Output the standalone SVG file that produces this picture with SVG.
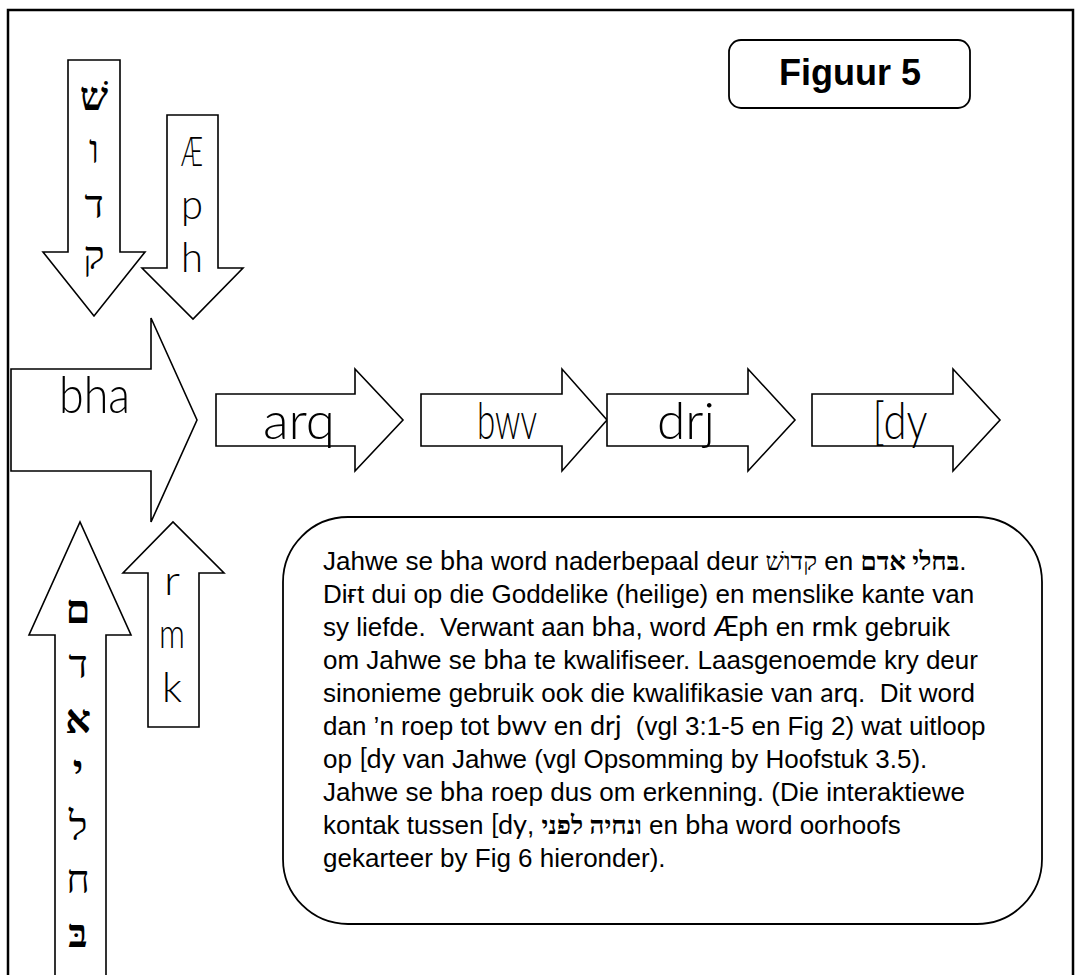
<svg xmlns="http://www.w3.org/2000/svg" width="1082" height="975" viewBox="0 0 1082 975">
<style>
.frame{fill:none;stroke:#000;stroke-width:2.5}
.ar{fill:#fff;stroke:#000;stroke-width:1.6;stroke-linejoin:miter}
.box{fill:#fff;stroke:#000;stroke-width:1.8}
.tr{font-family:"Lato","Open Sans","DejaVu Sans",sans-serif;font-weight:300;fill:#000}
.ti{font-family:"Lato","Open Sans","DejaVu Sans",sans-serif;font-weight:400;font-size:27px;fill:#000}
.lbl{font-size:52px;text-anchor:middle}
.vl{font-size:41px;text-anchor:middle}
.he{font-family:"Liberation Serif","DejaVu Serif",serif;font-size:40px;text-anchor:middle;fill:#000}
.heb{font-weight:bold}
.body{font-family:"Liberation Sans",Arial,sans-serif;font-size:26px;fill:#000;white-space:pre}
.heI{font-family:"Liberation Serif","DejaVu Serif",serif;font-size:26px}
.fig{font-family:"Liberation Sans",Arial,sans-serif;font-size:36px;font-weight:bold;text-anchor:middle}
</style>
<rect class="frame" x="8" y="10" width="1065" height="1000"/>
<g id="connectors">
<polygon id="arrow-qdsh" class="ar" points="68,60 120,60 120,252 145,252 94,316 43,252 68,252"/>
<polygon id="arrow-eph" class="ar" points="167,115 218,115 218,268 243,268 193,319 142,268 167,268"/>
<polygon id="arrow-adam" class="ar" points="55,1010 55,635 29,635 80,522 131,635 106,635 106,1010"/>
<polygon id="arrow-rmk" class="ar" points="148,727 148,573 123,573 173,522 224,573 199,573 199,727"/>
</g>
<g id="node-qdsh">
<text class="he heb" x="94" y="110">שׁ</text>
<text class="he" x="94" y="163">ו</text>
<text class="he" x="94" y="218">ד</text>
<text class="he" x="94" y="269">ק</text>
</g>
<g id="node-eph">
<text class="tr vl" x="192" y="166" textLength="22" lengthAdjust="spacingAndGlyphs">Æ</text>
<text class="tr vl" x="192" y="219" textLength="22" lengthAdjust="spacingAndGlyphs">p</text>
<text class="tr vl" x="192" y="272" textLength="22" lengthAdjust="spacingAndGlyphs">h</text>
</g>
<g id="node-bha">
<polygon class="ar" points="11,369 151,369 151,318 197,420 151,522 151,471 11,471"/>
<text class="tr lbl" x="94.5" y="413" textLength="71" lengthAdjust="spacingAndGlyphs">bha</text>
</g>
<g id="node-arq">
<polygon class="ar" points="216,394 355,394 355,369 403,420 355,471 355,446 216,446"/>
<text class="tr lbl" x="299" y="439" textLength="72" lengthAdjust="spacingAndGlyphs">arq</text>
</g>
<g id="node-bwv">
<polygon class="ar" points="421,394 562,394 562,369 607,420 562,471 562,446 421,446"/>
<text class="tr lbl" x="507" y="439" textLength="60" lengthAdjust="spacingAndGlyphs">bwv</text>
</g>
<g id="node-drj">
<polygon class="ar" points="607,394 748,394 748,369 795,420 748,471 748,446 607,446"/>
<text class="tr lbl" x="686" y="439" textLength="58" lengthAdjust="spacingAndGlyphs">drj</text>
</g>
<g id="node-dy">
<polygon class="ar" points="812,394 953,394 953,369 1000,420 953,471 953,446 812,446"/>
<text class="tr lbl" x="900" y="439" textLength="55" lengthAdjust="spacingAndGlyphs">[dy</text>
</g>
<g id="node-adam">
<text class="he heb" x="78" y="623">ם</text>
<text class="he" x="78" y="678">ד</text>
<text class="he heb" x="78" y="733">א</text>
<text class="he heb" x="78" y="783">י</text>
<text class="he" x="78" y="840">ל</text>
<text class="he" x="78" y="893">ח</text>
<text class="he heb" x="78" y="947">בּ</text>
</g>
<g id="node-rmk">
<text class="tr vl" x="172" y="595" textLength="16" lengthAdjust="spacingAndGlyphs">r</text>
<text class="tr vl" x="172" y="648" textLength="26" lengthAdjust="spacingAndGlyphs">m</text>
<text class="tr vl" x="172" y="702" textLength="20" lengthAdjust="spacingAndGlyphs">k</text>
</g>
<g id="node-title">
<rect class="box" x="729" y="40" width="241" height="68" rx="12"/>
<text class="fig" x="850" y="85">Figuur 5</text>
</g>
<g id="node-note">
<rect class="box" x="283" y="517" width="759" height="407" rx="65"/>
<text class="body" x="323" y="570">Jahwe se <tspan class="ti">bha</tspan> word naderbepaal deur <tspan class="heI">קדושׁ</tspan> en <tspan class="heI" font-weight="bold">בּחלי אדם</tspan>.</text>
<text class="body" x="323" y="603">Diғt dui op die Goddelike (heilige) en menslike kante van</text>
<text class="body" x="323" y="636">sy liefde.  Verwant aan <tspan class="ti">bha</tspan>, word <tspan class="ti">Æph</tspan> en <tspan class="ti">rmk</tspan> gebruik</text>
<text class="body" x="323" y="669">om Jahwe se <tspan class="ti">bha</tspan> te kwalifiseer. Laasgenoemde kry deur</text>
<text class="body" x="323" y="702">sinonieme gebruik ook die kwalifikasie van <tspan class="ti">arq</tspan>.  Dit word</text>
<text class="body" x="323" y="735">dan ’n roep tot <tspan class="ti">bwv</tspan> en <tspan class="ti">drj</tspan>  (vgl 3:1-5 en Fig 2) wat uitloop</text>
<text class="body" x="323" y="768">op <tspan class="ti">[dy</tspan> van Jahwe (vgl Opsomming by Hoofstuk 3.5).</text>
<text class="body" x="323" y="801">Jahwe se <tspan class="ti">bha</tspan> roep dus om erkenning. (Die interaktiewe</text>
<text class="body" x="323" y="834">kontak tussen <tspan class="ti">[dy</tspan>, <tspan class="heI" font-weight="bold">ונחיה לפני</tspan> en <tspan class="ti">bha</tspan> word oorhoofs</text>
<text class="body" x="323" y="867">gekarteer by Fig 6 hieronder).</text>
</g>
</svg>
